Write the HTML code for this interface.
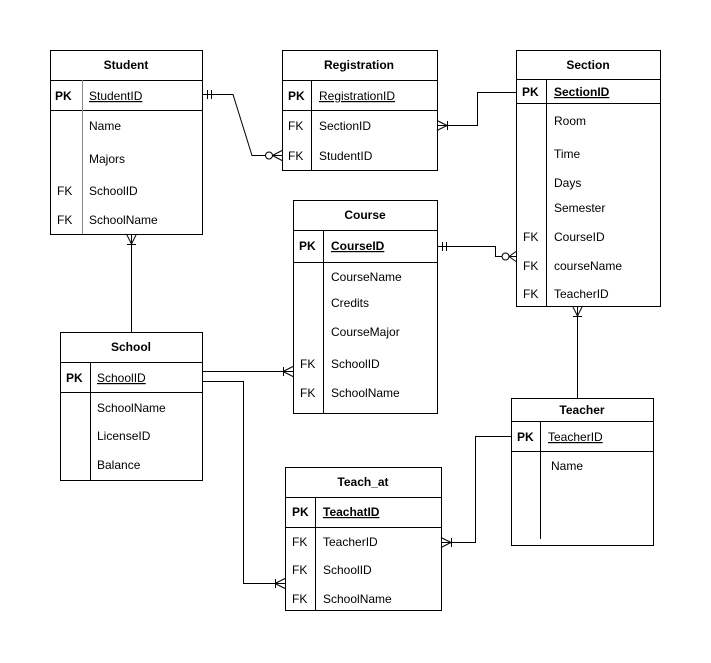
<!DOCTYPE html>
<html><head><meta charset="utf-8"><style>
html,body{margin:0;padding:0;background:#fff;}
svg{display:block;}
text{font-family:"Liberation Sans",Arial,sans-serif;font-size:12px;fill:#000;}
.t{font-weight:bold;}
.b{font-weight:bold;}
</style></head><body>
<svg width="711" height="663" viewBox="0 0 711 663" xmlns="http://www.w3.org/2000/svg">
<g fill="none" stroke="#000" stroke-width="1">
<!-- Student -->
<rect x="50.5" y="50.5" width="152" height="184"/>
<line x1="50" y1="80.5" x2="202" y2="80.5"/>
<line x1="50" y1="110.5" x2="202" y2="110.5"/>
<line x1="82.5" y1="80" x2="82.5" y2="234" stroke="#888"/>
<!-- Registration -->
<rect x="282.5" y="50.5" width="155" height="120"/>
<line x1="282" y1="80.5" x2="437" y2="80.5"/>
<line x1="282" y1="110.5" x2="437" y2="110.5"/>
<line x1="311.5" y1="80" x2="311.5" y2="170"/>
<!-- Section -->
<rect x="516.5" y="50.5" width="144" height="256"/>
<line x1="516" y1="79.5" x2="660" y2="79.5"/>
<line x1="516" y1="103.5" x2="660" y2="103.5"/>
<line x1="546.5" y1="79" x2="546.5" y2="306"/>
<!-- Course -->
<rect x="293.5" y="200.5" width="144" height="213"/>
<line x1="293" y1="230.5" x2="437" y2="230.5"/>
<line x1="293" y1="262.5" x2="437" y2="262.5"/>
<line x1="323.5" y1="230" x2="323.5" y2="413"/>
<!-- School -->
<rect x="60.5" y="332.5" width="142" height="148"/>
<line x1="60" y1="362.5" x2="202" y2="362.5"/>
<line x1="60" y1="392.5" x2="202" y2="392.5"/>
<line x1="90.5" y1="362" x2="90.5" y2="480"/>
<!-- Teacher -->
<rect x="511.5" y="398.5" width="142" height="147"/>
<line x1="511" y1="421.5" x2="653" y2="421.5"/>
<line x1="511" y1="451.5" x2="653" y2="451.5"/>
<line x1="540.5" y1="421" x2="540.5" y2="539"/>
<!-- Teach_at -->
<rect x="285.5" y="467.5" width="156" height="143"/>
<line x1="285" y1="497.5" x2="441" y2="497.5"/>
<line x1="285" y1="527.5" x2="441" y2="527.5"/>
<line x1="315.5" y1="497" x2="315.5" y2="610"/>

<!-- Student -> Registration -->
<polyline points="202,94.5 233,94.5 252,155.5 265,155.5"/>
<line x1="207.5" y1="90" x2="207.5" y2="99"/><line x1="211.5" y1="90" x2="211.5" y2="99"/>
<circle cx="269" cy="155.5" r="3.5"/>
<line x1="272.5" y1="155.5" x2="282" y2="150.5"/><line x1="272.5" y1="155.5" x2="282" y2="155.5"/><line x1="272.5" y1="155.5" x2="282" y2="160.5"/>
<!-- Registration -> Section -->
<polyline points="437,125.5 477.5,125.5 477.5,92.5 516,92.5"/>
<line x1="447" y1="125.5" x2="437" y2="120.5"/><line x1="447" y1="125.5" x2="437" y2="130.5"/>
<line x1="447.5" y1="121" x2="447.5" y2="130"/>
<!-- Course -> Section -->
<polyline points="437,246.5 495.5,246.5 495.5,256.5 502,256.5"/>
<line x1="442.5" y1="242" x2="442.5" y2="251"/><line x1="446.5" y1="242" x2="446.5" y2="251"/>
<circle cx="505.5" cy="256.5" r="3.5"/>
<line x1="509" y1="256.5" x2="516" y2="251.5"/><line x1="509" y1="256.5" x2="516" y2="256.5"/><line x1="509" y1="256.5" x2="516" y2="261.5"/>
<!-- Student -> School -->
<line x1="131.5" y1="234" x2="131.5" y2="332"/>
<line x1="131.5" y1="244" x2="126.5" y2="234"/><line x1="131.5" y1="244" x2="136.5" y2="234"/>
<line x1="127" y1="244.5" x2="136" y2="244.5"/>
<!-- School -> Course -->
<line x1="202" y1="371.5" x2="293" y2="371.5"/>
<line x1="283" y1="371.5" x2="293" y2="366.5"/><line x1="283" y1="371.5" x2="293" y2="376.5"/>
<line x1="283.5" y1="367" x2="283.5" y2="376"/>
<!-- School -> Teach_at -->
<polyline points="202,381.5 243.5,381.5 243.5,583.5 285,583.5"/>
<line x1="275" y1="583.5" x2="285" y2="578.5"/><line x1="275" y1="583.5" x2="285" y2="588.5"/>
<line x1="275.5" y1="579" x2="275.5" y2="588"/>
<!-- Section -> Teacher -->
<line x1="577.5" y1="306" x2="577.5" y2="398"/>
<line x1="577.5" y1="316" x2="572.5" y2="306"/><line x1="577.5" y1="316" x2="582.5" y2="306"/>
<line x1="573" y1="316.5" x2="582" y2="316.5"/>
<!-- Teacher -> Teach_at -->
<polyline points="511,436.5 475.5,436.5 475.5,542.5 441,542.5"/>
<line x1="451" y1="542.5" x2="441" y2="537.5"/><line x1="451" y1="542.5" x2="441" y2="547.5"/>
<line x1="451.5" y1="538" x2="451.5" y2="547"/>
</g>

<!-- Student text -->
<text class="t" x="126" y="69" text-anchor="middle">Student</text>
<text class="b" x="55" y="100">PK</text>
<text x="89" y="100" text-decoration="underline">StudentID</text>
<text x="89" y="130">Name</text>
<text x="89" y="163">Majors</text>
<text x="57" y="195">FK</text><text x="89" y="195">SchoolID</text>
<text x="57" y="224">FK</text><text x="89" y="224">SchoolName</text>

<!-- Registration -->
<text class="t" x="359" y="69" text-anchor="middle">Registration</text>
<text class="b" x="288" y="100">PK</text>
<text x="319" y="100" text-decoration="underline">RegistrationID</text>
<text x="288" y="130">FK</text><text x="319" y="130">SectionID</text>
<text x="288" y="160">FK</text><text x="319" y="160">StudentID</text>

<!-- Section -->
<text class="t" x="588" y="69" text-anchor="middle">Section</text>
<text class="b" x="522" y="96">PK</text>
<text class="b" x="554" y="96" text-decoration="underline">SectionID</text>
<text x="554" y="125">Room</text>
<text x="554" y="158">Time</text>
<text x="554" y="187">Days</text>
<text x="554" y="212">Semester</text>
<text x="523" y="241">FK</text><text x="554" y="241">CourseID</text>
<text x="523" y="270">FK</text><text x="554" y="270">courseName</text>
<text x="523" y="298">FK</text><text x="554" y="298">TeacherID</text>

<!-- Course -->
<text class="t" x="365" y="219" text-anchor="middle">Course</text>
<text class="b" x="299" y="250">PK</text>
<text class="b" x="331" y="250" text-decoration="underline">CourseID</text>
<text x="331" y="281">CourseName</text>
<text x="331" y="307">Credits</text>
<text x="331" y="336">CourseMajor</text>
<text x="300" y="368">FK</text><text x="331" y="368">SchoolID</text>
<text x="300" y="397">FK</text><text x="331" y="397">SchoolName</text>

<!-- School -->
<text class="t" x="131" y="351" text-anchor="middle">School</text>
<text class="b" x="66" y="382">PK</text>
<text x="97" y="382" text-decoration="underline">SchoolID</text>
<text x="97" y="412">SchoolName</text>
<text x="97" y="440">LicenseID</text>
<text x="97" y="469">Balance</text>

<!-- Teacher -->
<text class="t" x="582" y="414" text-anchor="middle">Teacher</text>
<text class="b" x="517" y="441">PK</text>
<text x="548" y="441" text-decoration="underline">TeacherID</text>
<text x="551" y="470">Name</text>

<!-- Teach_at -->
<text class="t" x="363" y="486" text-anchor="middle">Teach_at</text>
<text class="b" x="292" y="516">PK</text>
<text class="b" x="323" y="516" text-decoration="underline">TeachatID</text>
<text x="292" y="546">FK</text><text x="323" y="546">TeacherID</text>
<text x="292" y="574">FK</text><text x="323" y="574">SchoolID</text>
<text x="292" y="603">FK</text><text x="323" y="603">SchoolName</text>
</svg>
</body></html>
